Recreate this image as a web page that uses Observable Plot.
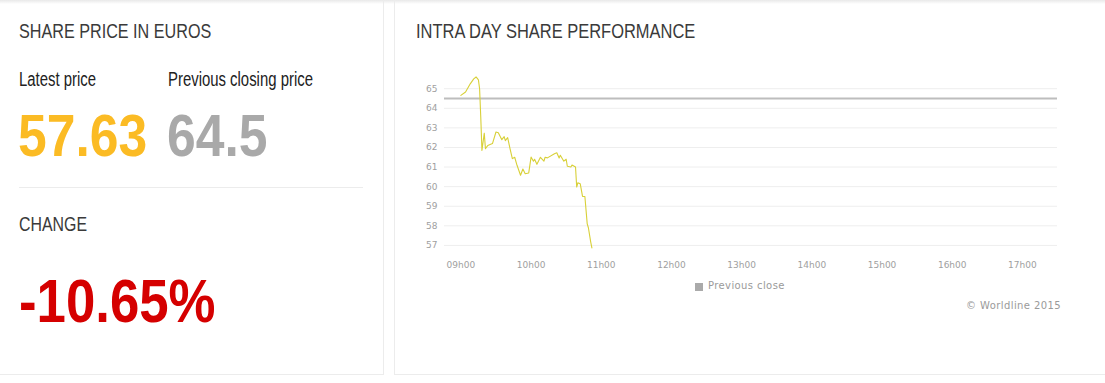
<!DOCTYPE html>
<html>
<head>
<meta charset="utf-8">
<script src="https://cdn.jsdelivr.net/npm/d3@7"></script>
<script src="https://cdn.jsdelivr.net/npm/@observablehq/plot@0.6"></script>
<style>
  html, body { margin: 0; padding: 0; background: #fff; }
  body { width: 1105px; height: 383px; position: relative; overflow: hidden; }
  .topshade { position: absolute; left: 0; top: 0; width: 1105px; height: 4px;
    background: linear-gradient(#e9e9e9, rgba(255,255,255,0)); }
  .panel { position: absolute; top: 0; height: 375px; border-bottom: 1px solid #ececec; box-sizing: border-box; }
  .narrow { font-family: "Liberation Sans", Arial, sans-serif; transform-origin: 0 0; }
  .t { position: absolute; white-space: nowrap; line-height: 1; }
  .head { font-size: 21px; color: #3a3a3a; transform: scaleX(0.77); }
  .lab { font-size: 20px; color: #222; transform: scaleX(0.745); }
  .big { font-size: 60px; font-weight: bold; transform: scaleX(0.86); }
  .small { font-family: "DejaVu Sans", sans-serif; font-size: 10px; color: #9a9a9a; letter-spacing: 0.4px; }
</style>
</head>
<body>
<div class="topshade"></div>
<div class="panel" style="left:0;width:384px;border-right:1px solid #ececec;"></div>
<div class="panel" style="left:394px;width:711px;border-left:1px solid #ececec;"></div>

<div class="t narrow head" style="left:19px;top:20px;">SHARE PRICE IN EUROS</div>
<div class="t narrow lab" style="left:19px;top:69px;">Latest price</div>
<div class="t narrow lab" style="left:168px;top:69px;">Previous closing price</div>
<div class="t narrow big" style="left:18px;top:106px;color:#fbbb24;">57.63</div>
<div class="t narrow big" style="left:167px;top:106px;color:#a9a9a9;">64.5</div>
<div style="position:absolute;left:19px;top:187px;width:344px;height:1px;background:#ececec;"></div>
<div class="t narrow head" style="left:19px;top:213px;transform:scaleX(0.757);">CHANGE</div>
<div class="t narrow big" style="left:19px;top:271px;color:#d50000;font-size:61px;transform:scaleX(0.865);">-10.65%</div>

<div class="t narrow head" style="left:416px;top:20px;transform:scaleX(0.784);">INTRA DAY SHARE PERFORMANCE</div>
<div id="chart" style="position:absolute;left:405px;top:60px;"></div>
<div style="position:absolute;left:695px;top:283px;width:8px;height:8px;background:#aaa;"></div>
<div class="t small" style="left:708px;top:281px;">Previous close</div>
<div class="t small" style="right:44px;top:301px;">© Worldline 2015</div>

<script>
// Intraday share price (time of day, EUR)
const times = ["09:00","09:04","09:08","09:11","09:13","09:15","09:16","09:17","09:18","09:20",
  "09:21","09:23","09:27","09:30","09:32","09:35","09:37","09:38","09:40","09:42",
  "09:44","09:46","09:48","09:51","09:53","09:55","09:58","10:00","10:02","10:03",
  "10:05","10:08","10:11","10:12","10:14","10:20","10:22","10:24","10:25","10:28",
  "10:30","10:31","10:34","10:35","10:38","10:39","10:40","10:42","10:44","10:46",
  "10:48","10:49","10:51","10:52"];
const prices = [64.66,64.83,65.25,65.50,65.60,65.45,65.00,63.55,61.85,62.73,
  61.94,62.10,62.20,62.79,62.75,62.40,62.55,62.35,62.50,61.94,
  61.43,61.50,61.09,60.58,60.90,60.66,60.70,61.51,61.30,61.40,
  61.14,61.50,61.30,61.50,61.47,61.68,61.73,61.46,61.60,61.30,
  61.40,61.04,61.00,61.10,61.00,59.98,60.20,60.15,59.50,59.50,
  58.10,57.90,57.17,56.87];
const previousClose = 64.5;
const xTickLabels = ["09:00","10:00","11:00","12:00","13:00","14:00","15:00","16:00","17:00"];
const yTickValues = [57,58,59,60,61,62,63,64,65];
const xDomainLabels = ["08:46","17:30"];

const parse = d3.utcParse("%H:%M");
const data = times.map((t, i) => ({time: parse(t), price: prices[i]}));
const fmt = d3.utcFormat("%Hh%M");

const chart = Plot.plot({
  width: 670,
  height: 220,
  marginLeft: 39,
  marginRight: 18,
  marginTop: 10,
  marginBottom: 30,
  style: {fontFamily: "DejaVu Sans, sans-serif", fontSize: "9px", color: "#a0a0a0", background: "transparent", overflow: "visible"},
  x: {type: "utc", domain: xDomainLabels.map(parse)},
  y: {domain: [56.74, 65.93]},
  marks: [
    Plot.gridY(yTickValues, {stroke: "#eeeeee", strokeOpacity: 1}),
    Plot.ruleY([previousClose], {stroke: "#bdbdbd", strokeWidth: 2}),
    Plot.line(data, {x: "time", y: "price", stroke: "#d8d038", strokeWidth: 1.1}),
    Plot.axisX(xTickLabels.map(parse), {tickSize: 0, tickPadding: 11, tickFormat: fmt, label: null}),
    Plot.axisY(yTickValues, {tickSize: 0, tickPadding: 7, label: null})
  ]
});
document.getElementById("chart").appendChild(chart);
</script>
</body>
</html>
